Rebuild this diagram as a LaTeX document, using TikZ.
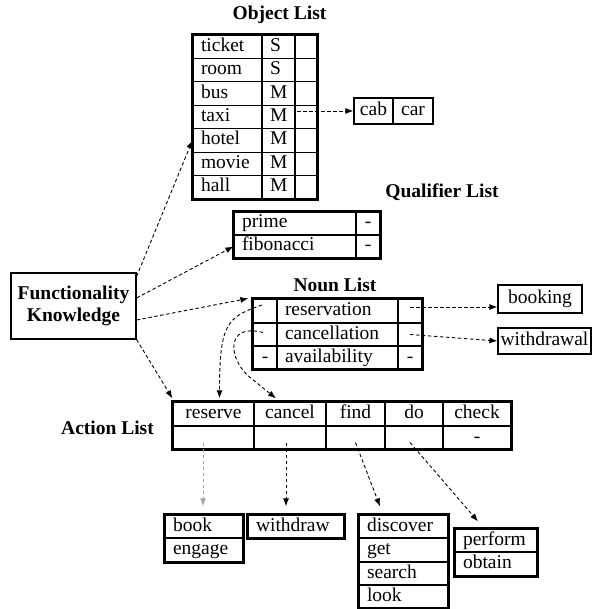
\documentclass[tikz,border=0pt]{standalone}
\usepackage{fontspec}
\setmainfont{Liberation Serif}
\usetikzlibrary{calc,arrows.meta}
\newcommand{\mylcell}[6]{%
  \pgfmathsetmacro\cw{#4-#2}\pgfmathsetmacro\ch{#5-#3}\pgfmathsetmacro\tw{#4-#2-16}%
  \pgfmathsetmacro\cx{(#2+#4)/2}\pgfmathsetmacro\cy{(#3+#5)/2}%
  \node[cellbox, minimum width=\cw pt, minimum height=\ch pt, text width=\tw pt, inner xsep=8pt, align=left] (#1) at (\cx,\cy) {#6};}
\newcommand{\myccell}[6]{%
  \pgfmathsetmacro\cw{#4-#2}\pgfmathsetmacro\ch{#5-#3}%
  \pgfmathsetmacro\cx{(#2+#4)/2}\pgfmathsetmacro\cy{(#3+#5)/2}%
  \node[cellbox, minimum width=\cw pt, minimum height=\ch pt, inner xsep=1pt] (#1) at (\cx,\cy) {#6};}
\begin{document}
\begin{tikzpicture}[x=1pt,y=-1pt,
  every node/.style={font=\fontsize{19.5}{22}\selectfont},
  cellbox/.style={draw, line width=1.2pt, inner ysep=0pt, text height=13pt, text depth=4pt},
  outer/.style={draw, line width=2pt},
  titletext/.style={font=\fontsize{19.5}{22}\selectfont\bfseries},
  arr/.style={-{Latex[length=8pt,width=6pt]}, dash pattern=on 3.5pt off 2.5pt, line width=0.9pt},
  grayarr/.style={arr, draw=gray!70, fill=gray!70}]
\useasboundingbox (0,0) rectangle (592,609);

% ---------- Object List ----------
\node[titletext] (objtitle) at (279.5,15) {Object List};
\mylcell{o11}{193}{35}{262}{58.43}{ticket}
\mylcell{o12}{262}{35}{295}{58.43}{S}
\mylcell{o13}{295}{35}{317}{58.43}{}
\mylcell{o21}{193}{58.43}{262}{81.86}{room}
\mylcell{o22}{262}{58.43}{295}{81.86}{S}
\mylcell{o23}{295}{58.43}{317}{81.86}{}
\mylcell{o31}{193}{81.86}{262}{105.29}{bus}
\mylcell{o32}{262}{81.86}{295}{105.29}{M}
\mylcell{o33}{295}{81.86}{317}{105.29}{}
\mylcell{o41}{193}{105.29}{262}{128.71}{taxi}
\mylcell{o42}{262}{105.29}{295}{128.71}{M}
\mylcell{o43}{295}{105.29}{317}{128.71}{}
\mylcell{o51}{193}{128.71}{262}{152.14}{hotel}
\mylcell{o52}{262}{128.71}{295}{152.14}{M}
\mylcell{o53}{295}{128.71}{317}{152.14}{}
\mylcell{o61}{193}{152.14}{262}{175.57}{movie}
\mylcell{o62}{262}{152.14}{295}{175.57}{M}
\mylcell{o63}{295}{152.14}{317}{175.57}{}
\mylcell{o71}{193}{175.57}{262}{199}{hall}
\mylcell{o72}{262}{175.57}{295}{199}{M}
\mylcell{o73}{295}{175.57}{317}{199}{}
\draw[outer] (o11.north west) rectangle (o73.south east);

\myccell{cab}{354}{98}{393}{124}{cab}
\myccell{car}{393}{98}{433}{124}{car}

% ---------- Qualifier List ----------
\node[titletext] (qualtitle) at (442,192) {Qualifier List};
\mylcell{q11}{234}{212}{356}{235}{prime}
\myccell{q12}{356}{212}{380}{235}{-}
\mylcell{q21}{234}{235}{356}{258}{fibonacci}
\myccell{q22}{356}{235}{380}{258}{-}
\draw[outer] (q11.north west) rectangle (q22.south east);

% ---------- Functionality Knowledge ----------
\node[draw, line width=1.2pt, minimum width=125pt, minimum height=66pt, align=center,
      font=\fontsize{19.5}{22}\selectfont\bfseries] (fk) at (73.5,306) {Functionality\\Knowledge};

% ---------- Noun List ----------
\node[titletext] (nountitle) at (335,285) {Noun List};
\myccell{n11}{253}{299}{277}{323}{}
\mylcell{n12}{277}{299}{398}{323}{reservation}
\myccell{n13}{398}{299}{422}{323}{}
\myccell{n21}{253}{323}{277}{346}{}
\mylcell{n22}{277}{323}{398}{346}{cancellation}
\myccell{n23}{398}{323}{422}{346}{}
\myccell{n31}{253}{346}{277}{369}{-}
\mylcell{n32}{277}{346}{398}{369}{availability}
\myccell{n33}{398}{346}{422}{369}{-}
\draw[outer] (n11.north west) rectangle (n33.south east);

\myccell{booking}{498}{285}{582}{313}{booking}
\myccell{withdrawal}{498}{328}{591}{354}{withdrawal}

% ---------- Action List ----------
\node[titletext] (acttitle) at (107.5,428) {Action List};
\myccell{a1}{173}{402}{254}{426}{reserve}
\myccell{a2}{254}{402}{326}{426}{cancel}
\myccell{a3}{326}{402}{385}{426}{find}
\myccell{a4}{385}{402}{443}{426}{do}
\myccell{a5}{443}{402}{511}{426}{check}
\myccell{a1b}{173}{426}{254}{449}{}
\myccell{a2b}{254}{426}{326}{449}{}
\myccell{a3b}{326}{426}{385}{449}{}
\myccell{a4b}{385}{426}{443}{449}{}
\myccell{a5b}{443}{426}{511}{449}{-}
\draw[outer] (a1.north west) rectangle (a5b.south east);

% ---------- synonym boxes ----------
\mylcell{book}{165}{515}{243}{538}{book}
\mylcell{engage}{165}{538}{243}{562}{engage}
\draw[outer] (book.north west) rectangle (engage.south east);
\mylcell{withdraw}{248}{515}{344}{538}{withdraw}
\draw[outer] (withdraw.north west) rectangle (withdraw.south east);
\mylcell{discover}{359}{515}{448}{538}{discover}
\mylcell{get}{359}{538}{448}{562}{get}
\mylcell{search}{359}{562}{448}{585}{search}
\mylcell{look}{359}{585}{448}{608}{look}
\draw[outer] (discover.north west) rectangle (look.south east);
\mylcell{perform}{455}{529}{537}{552}{perform}
\mylcell{obtain}{455}{552}{537}{576}{obtain}
\draw[outer] (perform.north west) rectangle (obtain.south east);

% ---------- connectors ----------
\draw[arr] ($(fk.north east)+(0,4)$) -- (o51.west);
\draw[arr] ($(fk.east)+(0,-8)$) -- (q21.west);
\draw[arr] ($(fk.east)+(0,14)$) -- ($(n11.north west)+(-4,0)$);
\draw[arr] (fk.south east) -- ($(a1.north west)+(0,-3)$);

\draw[arr] ($(o43.west |- cab.west)+(3,0)$) -- (cab.west);

\draw[arr] ($(n13.center)+(0,-4)$) -- ($(n13.center -| booking.west)+(0,-4)$);
\draw[arr] (n23.center) -- (withdrawal.west);

\draw[arr] ($(n11.center)+(-3,-6)$) .. controls +(-35,12) and +(0,-75) .. ($(a1.north)+(6,-3)$);
\draw[arr] ($(n21.center)+(-2,-2)$) .. controls +(-38,-10) and +(-22,-18) .. ($(a2.north)+(-40,-24)$)
           -- ($(a2.north)+(-14,-3)$);

\draw[grayarr] ($(a1b.center)+(-10.5,5)$) -- ($(a1b.center |- book.north)+(-10.5,-8)$);
\draw[arr] ($(a2b.center)+(-4,5)$) -- ($(a2b.center |- withdraw.north)+(-4,-8)$);
\draw[arr] ($(a3b.center)+(0,5)$) -- ($(discover.north)+(-23.5,-8)$);
\draw[arr] ($(a4b.center)+(-4,5)$) -- ($(perform.north)+(-18,-7)$);
\end{tikzpicture}
\end{document}
